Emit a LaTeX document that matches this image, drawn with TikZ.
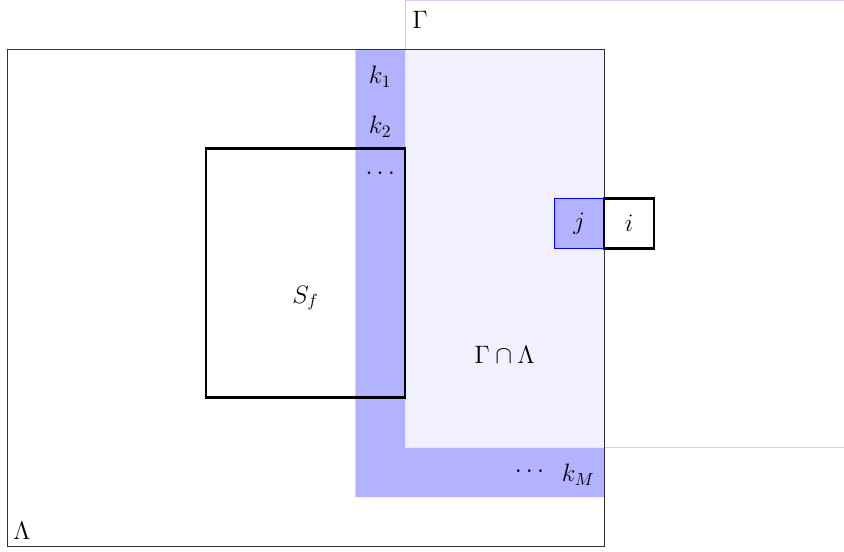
\documentclass[tikz,border=0pt]{standalone}
\begin{document}
\begin{tikzpicture}[x=1cm,y=1cm,
  lbl/.style={font=\Large},
  strip/.style={fill=blue!30},
  thickbox/.style={draw=black,line width=1.5pt},
]
\useasboundingbox (-0.14,-0.09) rectangle (16.82,10.99);
% Gamma cap Lambda fill
\fill[blue!6] (8,2) rectangle (12,10);
% k strip
\fill[strip] (7,1) -- (7,10) -- (8,10) -- (8,2) -- (12,2) -- (12,1) -- cycle;
% Gamma border
\draw[blue!20,line width=0.6pt] (8,10) -- (8,10.98) -- (17.5,10.98);
\draw[blue!20,line width=0.6pt] (12,2) -- (17.5,2);
\draw[blue!10,line width=0.6pt] (8,10) -- (8,2) -- (12,2);
% Lambda
\draw[black!80,line width=0.5pt] (0,0) rectangle (12,10);
% S_f
\draw[thickbox] (4,3) rectangle (8,8);
% j and i
\draw[draw=blue,fill=blue!30,line width=0.5pt] (11,6) rectangle (12,7);
\draw[thickbox] (12,6) rectangle (13,7);
% labels
\node[lbl] (gam) at (8.3,10.6) {$\Gamma$};
\node[lbl] (lam) at (0.3,0.32) {$\Lambda$};
\node[lbl] (k1) at (7.5,9.45) {$k_1$};
\node[lbl] (k2) at (7.5,8.45) {$k_2$};
\node[lbl] (kd) at (7.5,7.5) {$\cdots$};
\node[lbl] (sf) at (6,5) {$S_f$};
\node[lbl] (gl) at (10,3.86) {$\Gamma\cap\Lambda$};
\node[lbl] (md) at (10.5,1.5) {$\cdots$};
\node[lbl] (km) at (11.48,1.45) {$k_M$};
\node[lbl] (j) at (11.5,6.5) {$j$};
\node[lbl] (i) at (12.5,6.5) {$i$};
\end{tikzpicture}
\end{document}
